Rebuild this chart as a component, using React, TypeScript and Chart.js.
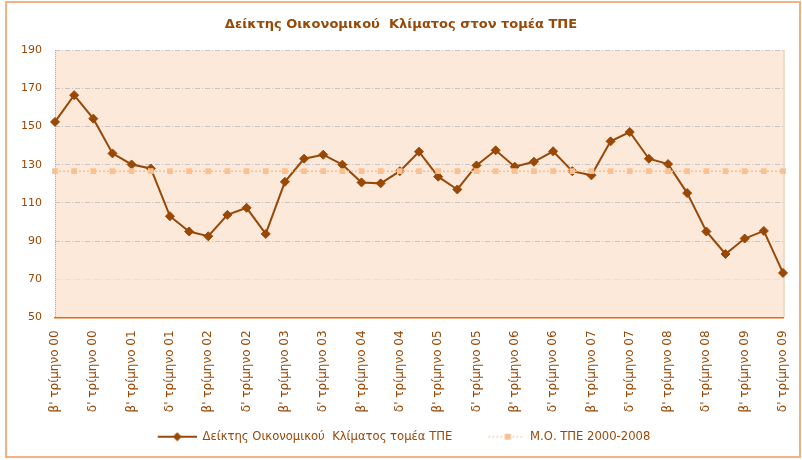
import React, { useEffect, useRef } from 'react';
import { Chart, registerables } from 'chart.js';

Chart.register(...registerables);

const chartTitle = 'Δείκτης Οικονομικού  Κλίματος στον τομέα ΤΠΕ';
const seriesLabel = 'Δείκτης Οικονομικού  Κλίματος τομέα ΤΠΕ';
const averageLabel = 'Μ.Ο. ΤΠΕ 2000-2008';

const categories = [
  "β' τρίμηνο 00", "γ' τρίμηνο 00", "δ' τρίμηνο 00",
  "α' τρίμηνο 01", "β' τρίμηνο 01", "γ' τρίμηνο 01", "δ' τρίμηνο 01",
  "α' τρίμηνο 02", "β' τρίμηνο 02", "γ' τρίμηνο 02", "δ' τρίμηνο 02",
  "α' τρίμηνο 03", "β' τρίμηνο 03", "γ' τρίμηνο 03", "δ' τρίμηνο 03",
  "α' τρίμηνο 04", "β' τρίμηνο 04", "γ' τρίμηνο 04", "δ' τρίμηνο 04",
  "α' τρίμηνο 05", "β' τρίμηνο 05", "γ' τρίμηνο 05", "δ' τρίμηνο 05",
  "α' τρίμηνο 06", "β' τρίμηνο 06", "γ' τρίμηνο 06", "δ' τρίμηνο 06",
  "α' τρίμηνο 07", "β' τρίμηνο 07", "γ' τρίμηνο 07", "δ' τρίμηνο 07",
  "α' τρίμηνο 08", "β' τρίμηνο 08", "γ' τρίμηνο 08", "δ' τρίμηνο 08",
  "α' τρίμηνο 09", "β' τρίμηνο 09", "γ' τρίμηνο 09", "δ' τρίμηνο 09",
];

const indexValues = [
  152.4, 166.4, 154.1, 135.9, 130.1, 128.0, 103.0, 95.0, 92.5, 103.7,
  107.4, 93.7, 121.0, 133.1, 135.2, 130.0, 120.7, 120.2, 126.6, 136.8,
  123.7, 117.0, 129.6, 137.5, 128.9, 131.5, 137.0, 126.6, 124.4, 142.2,
  147.1, 133.1, 130.3, 115.1, 95.0, 83.2, 91.3, 95.3, 73.3,
];

const averageLevel = 126.6;
const averageValues = categories.map(() => averageLevel);

const yMin = 50;
const yMax = 190;
const yStep = 20;

const BROWN = '#984807';
const LIGHT = '#FAC090';
const FONT = 'DejaVu Sans';
const ICON_W = 45;

function makeLegendIcon(kind: 'main' | 'avg'): HTMLCanvasElement {
  const c = document.createElement('canvas');
  c.width = ICON_W;
  c.height = 12;
  const ctx = c.getContext('2d')!;
  const x0 = ICON_W - 39, x1 = ICON_W, cy = 6, cx = (x0 + x1) / 2;
  if (kind === 'main') {
    ctx.strokeStyle = BROWN;
    ctx.lineWidth = 2;
    ctx.beginPath(); ctx.moveTo(x0, cy); ctx.lineTo(x1, cy); ctx.stroke();
    ctx.fillStyle = BROWN;
    ctx.beginPath();
    ctx.moveTo(cx - 4.5, cy); ctx.lineTo(cx, cy - 4.5); ctx.lineTo(cx + 4.5, cy); ctx.lineTo(cx, cy + 4.5);
    ctx.closePath(); ctx.fill();
  } else {
    ctx.strokeStyle = LIGHT;
    ctx.lineWidth = 1;
    ctx.setLineDash([2, 2]);
    ctx.beginPath(); ctx.moveTo(x0 + 3, cy); ctx.lineTo(x1 + 3, cy); ctx.stroke();
    ctx.fillStyle = LIGHT;
    ctx.fillRect(cx, cy - 3, 6, 6);
  }
  return c;
}

const plotPlugin = {
  id: 'plotDecor',
  afterLayout(chart: any) {
    // let the rotated category labels run below the axis box without being clipped
    const s = chart.scales.x;
    if (s) s.bottom = chart.height;
  },
  beforeDraw(chart: any) {
    const { ctx, chartArea: a } = chart;
    ctx.save();
    ctx.fillStyle = '#FDE9D9';
    ctx.fillRect(a.left, a.top, a.right - a.left, a.bottom - a.top);
    ctx.strokeStyle = '#E9DDCB';
    ctx.lineWidth = 2;
    ctx.beginPath();
    ctx.moveTo(a.right + 1, a.top);
    ctx.lineTo(a.right + 1, a.bottom);
    ctx.stroke();
    ctx.restore();
  },
  beforeDatasetsDraw(chart: any) {
    const { ctx, chartArea: a } = chart;
    ctx.save();
    ctx.strokeStyle = '#F79646';
    ctx.lineWidth = 1;
    ctx.setLineDash([1, 1]);
    ctx.beginPath();
    ctx.moveTo(a.left + 0.5, a.top);
    ctx.lineTo(a.left + 0.5, a.bottom);
    ctx.stroke();
    ctx.restore();
  },
};

export default function App() {
  const ref = useRef<HTMLCanvasElement | null>(null);

  useEffect(() => {
    if (!ref.current) return;
    const chart = new Chart(ref.current, {
      type: 'line',
      data: {
        labels: categories,
        datasets: [
          {
            label: seriesLabel,
            data: indexValues,
            borderColor: BROWN,
            backgroundColor: BROWN,
            borderWidth: 2,
            pointStyle: 'rectRot',
            pointRadius: 4.5,
            pointBorderWidth: 1,
            pointBackgroundColor: BROWN,
            pointBorderColor: BROWN,
            tension: 0,
            order: 1,
          },
          {
            label: averageLabel,
            data: averageValues,
            borderColor: LIGHT,
            backgroundColor: LIGHT,
            borderWidth: 1.5,
            borderDash: [2, 2],
            pointStyle: 'rect',
            pointRadius: 4,
            pointBorderWidth: 0,
            pointBackgroundColor: LIGHT,
            pointBorderColor: LIGHT,
            order: 0,
          },
        ],
      },
      options: {
        responsive: false,
        animation: false,
        layout: { padding: { left: 0, right: 0, top: 0, bottom: 7.5 } },
        plugins: {
          title: {
            display: true,
            text: chartTitle,
            color: BROWN,
            font: { family: FONT, size: 13, weight: 'bold' },
            padding: { top: 17, bottom: 17.5 },
          },
          legend: {
            position: 'bottom',
            labels: {
              usePointStyle: true,
              pointStyleWidth: ICON_W,
              padding: 27,
              color: BROWN,
              font: { family: FONT, size: 11.6 },
              sort: (a: any, b: any) => a.datasetIndex - b.datasetIndex,
              generateLabels: (ch: any) => {
                const items = (Chart.defaults.plugins.legend.labels as any).generateLabels(ch);
                return items.map((it: any) => ({
                  ...it,
                  pointStyle: makeLegendIcon(it.datasetIndex === 0 ? 'main' : 'avg'),
                }));
              },
            },
          },
          tooltip: { enabled: false },
        },
        scales: {
          x: {
            grid: { display: false, drawTicks: false },
            border: { display: true, color: '#E46C0A', width: 1.5 },
            ticks: {
              autoSkip: false,
              minRotation: 90,
              maxRotation: 90,
              padding: 13,
              color: BROWN,
              font: { family: FONT, size: 12 },
              callback: (_v: any, i: number) => (i % 2 === 0 ? categories[i] : ''),
            },
            afterFit: (s: any) => {
              s.height = 86.5;
              s.paddingLeft = 0;
              s.paddingRight = 19;
            },
          },
          y: {
            min: yMin,
            max: yMax,
            ticks: {
              stepSize: yStep,
              padding: 13,
              color: BROWN,
              font: { family: FONT, size: 11 },
            },
            grid: {
              drawTicks: false,
              lineWidth: 1,
              color: (c: any) => (c.tick && c.tick.value === 70 ? '#E6E0DD' : '#C8C3C4'),
            },
            border: { display: false, dash: [5, 2, 1, 2] },
            afterFit: (s: any) => { s.width = 55; },
          },
        },
      },
      plugins: [plotPlugin],
    } as any);
    return () => chart.destroy();
  }, []);

  return (
    <div style={{ position: 'fixed', left: 0, top: 0, width: 802, height: 460, background: '#fff' }}>
      <canvas ref={ref} width={802} height={460} style={{ display: 'block' }} />
      <div
        style={{
          position: 'absolute', left: 5, top: 1, width: 796, height: 457,
          boxSizing: 'border-box', border: '2px solid #F4B183', pointerEvents: 'none',
        }}
      />
    </div>
  );
}
